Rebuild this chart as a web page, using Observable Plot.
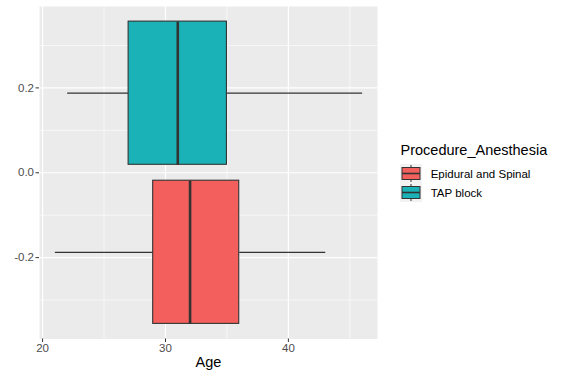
<!DOCTYPE html>
<html>
<head>
<meta charset="utf-8">
<script src="https://cdn.jsdelivr.net/npm/d3@7"></script>
<script src="https://cdn.jsdelivr.net/npm/@observablehq/plot@0.6"></script>
<style>
  body { margin: 0; background: #fff; font-family: "Liberation Sans", Arial, sans-serif; }
  #wrap { position: relative; width: 564px; height: 380px; }
  #legend { position: absolute; left: 398px; top: 138px; }
</style>
</head>
<body>
<div id="wrap"><div id="chart"></div><svg id="legend" width="166" height="70"></svg></div>
<script>
// Five-number summaries of Age by anesthesia procedure
const groups = ["Epidural and Spinal", "TAP block"];
const colors = ["#F25F5C", "#1AB2B6"];
const mins = [21, 22];
const q1s = [29, 27];
const medians = [32, 31];
const q3s = [36, 35];
const maxs = [43, 46];

const xTicks = [20, 30, 40];
const xMinor = [25, 35, 45];
const yTicks = [-0.2, 0, 0.2];
const yMinor = [-0.3, -0.1, 0.1, 0.3];

// Boxes share a dodge width of 0.75 around y = 0, with 10% padding per slot
const dodgeWidth = 0.75, pad = 0.1;
const slot = dodgeWidth / groups.length;
const rows = groups.map((g, i) => {
  const center = -dodgeWidth / 2 + slot * (i + 0.5);
  const half = slot * (1 - pad) / 2;
  return {group: g, min: mins[i], q1: q1s[i], median: medians[i], q3: q3s[i], max: maxs[i],
          y: center, ylo: center - half, yhi: center + half};
});

// 5% expansion on both axes
const expand = ([a, b]) => { const d = (b - a) * 0.05; return [a - d, b + d]; };
const xDomain = expand([d3.min(mins), d3.max(maxs)]);
const yDomain = expand([d3.min(rows, d => d.ylo), d3.max(rows, d => d.yhi)]);

const dark = "#333333";
const chart = Plot.plot({
  width: 564, height: 380,
  marginLeft: 39, marginRight: 187, marginTop: 6, marginBottom: 41.5,
  style: { fontFamily: "'Liberation Sans', Arial, sans-serif", background: "transparent" },
  x: { domain: xDomain },
  y: { domain: yDomain },
  color: { domain: groups, range: colors },
  marks: [
    Plot.frame({ fill: "#EBEBEB", stroke: null }),
    Plot.gridX(xMinor, { stroke: "#fff", strokeOpacity: 1, strokeWidth: 0.6 }),
    Plot.gridX(xTicks, { stroke: "#fff", strokeOpacity: 1, strokeWidth: 1.2 }),
    Plot.gridY(yMinor, { stroke: "#fff", strokeOpacity: 1, strokeWidth: 0.6 }),
    Plot.gridY(yTicks, { stroke: "#fff", strokeOpacity: 1, strokeWidth: 1.2 }),
    Plot.axisX(xTicks, { tickSize: 3.5, tickPadding: 1.5, fontSize: 11.5, stroke: dark, fill: "#4D4D4D", label: null }),
    Plot.axisY(yTicks, { tickSize: 3.5, tickPadding: 2, fontSize: 11.5, stroke: dark, fill: "#4D4D4D", label: null,
                         tickFormat: d => d.toFixed(1) }),
    Plot.text(["Age"], { frameAnchor: "bottom", dy: 28, fontSize: 14.5, fill: "#000" }),
    // whiskers
    Plot.link(rows, { x1: "min", x2: "q1", y1: "y", y2: "y", stroke: dark, strokeWidth: 1.2 }),
    Plot.link(rows, { x1: "q3", x2: "max", y1: "y", y2: "y", stroke: dark, strokeWidth: 1.2 }),
    // boxes
    Plot.rect(rows, { x1: "q1", x2: "q3", y1: "ylo", y2: "yhi", fill: "group", stroke: dark, strokeWidth: 1.1 }),
    // medians
    Plot.link(rows, { x1: "median", x2: "median", y1: "ylo", y2: "yhi", stroke: dark, strokeWidth: 2.6 })
  ]
});
document.getElementById("chart").append(chart);

// Legend
const lg = d3.select("#legend");
lg.append("text").attr("x", 2.5).attr("y", 12).attr("dominant-baseline", "central")
  .attr("font-size", 14.5).attr("fill", "#000").text("Procedure_Anesthesia");
groups.forEach((g, i) => {
  const top = 26 + i * 19;
  const k = lg.append("g").attr("transform", `translate(0,${top})`);
  k.append("rect").attr("x", 2).attr("y", 0).attr("width", 22).attr("height", 19).attr("fill", "#F2F2F2");
  k.append("line").attr("x1", 13).attr("x2", 13).attr("y1", 1).attr("y2", 18).attr("stroke", dark).attr("stroke-width", 1);
  k.append("rect").attr("x", 4).attr("y", 3.5).attr("width", 18).attr("height", 12)
    .attr("fill", colors[i]).attr("stroke", dark).attr("stroke-width", 1);
  k.append("line").attr("x1", 4).attr("x2", 22).attr("y1", 9.5).attr("y2", 9.5).attr("stroke", dark).attr("stroke-width", 1.6);
  k.append("text").attr("x", 32.7).attr("y", 9.5).attr("dominant-baseline", "central")
    .attr("font-size", 11.5).attr("fill", "#000").text(g);
});
</script>
</body>
</html>
